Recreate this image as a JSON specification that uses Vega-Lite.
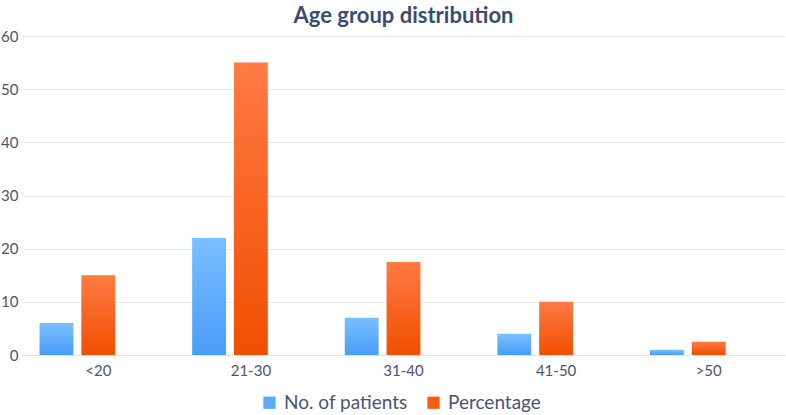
{
  "$schema": "https://vega.github.io/schema/vega-lite/v6.json",
  "width": 763,
  "height": 319,
  "autosize": "none",
  "padding": {"left": 22, "right": 1, "top": 36, "bottom": 60},
  "background": "#ffffff",
  "title": {
    "text": "Age group distribution",
    "fontSize": 22,
    "fontWeight": "bold",
    "color": "#3a4d70",
    "anchor": "middle",
    "offset": 1
  },
  "data": {
    "values": [
      {"age": "<20", "series": "No. of patients", "value": 6},
      {"age": "<20", "series": "Percentage", "value": 15},
      {"age": "21-30", "series": "No. of patients", "value": 22},
      {"age": "21-30", "series": "Percentage", "value": 55},
      {"age": "31-40", "series": "No. of patients", "value": 7},
      {"age": "31-40", "series": "Percentage", "value": 17.5},
      {"age": "41-50", "series": "No. of patients", "value": 4},
      {"age": "41-50", "series": "Percentage", "value": 10},
      {"age": ">50", "series": "No. of patients", "value": 1},
      {"age": ">50", "series": "Percentage", "value": 2.5}
    ]
  },
  "mark": {"type": "bar"},
  "encoding": {
    "x": {
      "field": "age",
      "type": "nominal",
      "sort": ["<20", "21-30", "31-40", "41-50", ">50"],
      "title": null,
      "scale": {"paddingInner": 0.23, "paddingOuter": 0.115},
      "axis": {
        "labelAngle": 0,
        "ticks": false,
        "domainColor": "#dfe3ea",
        "labelPadding": 8
      }
    },
    "xOffset": {
      "field": "series",
      "type": "nominal",
      "scale": {
        "domain": ["No. of patients", "Percentage", "empty"],
        "paddingInner": 0.19,
        "paddingOuter": 0
      }
    },
    "y": {
      "field": "value",
      "type": "quantitative",
      "title": null,
      "scale": {"domain": [0, 60]},
      "axis": {
        "values": [0, 10, 20, 30, 40, 50, 60],
        "domain": false,
        "ticks": false,
        "gridColor": "#e6eaf1",
        "labelPadding": 4
      }
    },
    "color": {
      "field": "series",
      "type": "nominal",
      "scale": {
        "domain": ["No. of patients", "Percentage"],
        "range": ["#5aabfa", "#fa5c12"]
      },
      "legend": {
        "orient": "none",
        "direction": "horizontal",
        "legendX": 238,
        "legendY": 357,
        "title": null,
        "symbolType": "square",
        "symbolSize": 150,
        "labelFontSize": 19,
        "labelOffset": 5,
        "columnPadding": 16
      },
      "condition": [
        {
          "test": "datum.series == 'No. of patients'",
          "value": {
            "gradient": "linear",
            "x1": 0, "y1": 0, "x2": 0, "y2": 1,
            "stops": [
              {"offset": 0, "color": "#79c0ff"},
              {"offset": 1, "color": "#4a9cf9"}
            ]
          }
        },
        {
          "test": "datum.series == 'Percentage'",
          "value": {
            "gradient": "linear",
            "x1": 0, "y1": 0, "x2": 0, "y2": 1,
            "stops": [
              {"offset": 0, "color": "#ff7a45"},
              {"offset": 1, "color": "#f04f00"}
            ]
          }
        }
      ]
    }
  },
  "config": {
    "view": {"stroke": null},
    "font": "Lato",
    "axis": {
      "labelFont": "Lato",
      "labelFontSize": 15,
      "labelColor": "#4a5670"
    },
    "legend": {
      "labelFont": "Lato",
      "labelColor": "#4a5670"
    }
  }
}
